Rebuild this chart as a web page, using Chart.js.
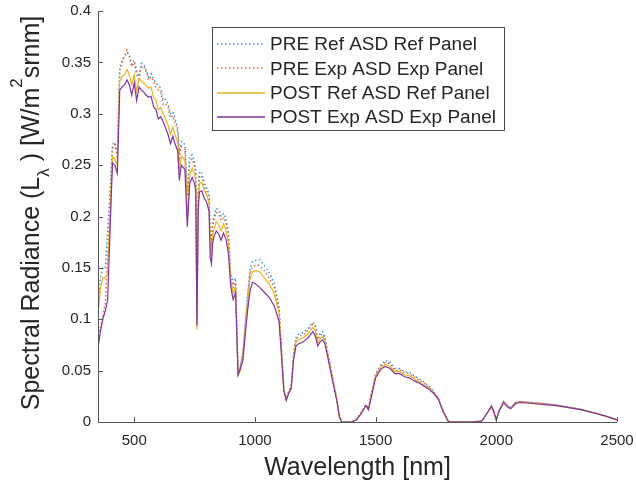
<!DOCTYPE html>
<html>
<head>
<meta charset="utf-8">
<script src="https://cdn.jsdelivr.net/npm/chart.js@4/dist/chart.umd.min.js"></script>
<style>
  html, body { margin: 0; padding: 0; background: #ffffff; }
  #wrap { width: 636px; height: 484px; position: relative; }
</style>
</head>
<body>
<div id="wrap"><canvas id="c" width="636" height="484"></canvas></div>
<script>
// ---- data ----
const wavelengths = [
  350,360,370,380,390,400,410,420,430,440,
  450,460,470,480,490,500,510,520,530,540,
  550,560,570,580,590,600,610,620,630,640,
  650,660,670,680,687,695,710,720,730,740,
  750,755,760,765,770,780,790,800,810,815,
  820,825,830,840,850,860,870,880,890,900,
  905,910,920,930,940,950,960,970,980,990,
  1000,1010,1020,1040,1060,1080,1100,1110,1120,1130,
  1140,1150,1160,1170,1180,1200,1220,1240,1250,1260,
  1270,1280,1290,1300,1320,1340,1350,1360,1400,1420,
  1440,1460,1470,1480,1500,1520,1540,1560,1580,1600,
  1620,1640,1660,1680,1700,1720,1740,1760,1780,1800,
  1810,1900,1940,1960,1980,1990,2000,2010,2030,2050,
  2060,2080,2100,2150,2200,2250,2300,2350,2400,2450,
  2500
];
const preRefPanel = [
  0.106,0.140,0.150,0.150,0.185,0.225,0.270,0.272,0.262,0.345,
  0.352,0.356,0.360,0.357,0.348,0.352,0.342,0.336,0.349,0.348,
  0.342,0.336,0.339,0.334,0.330,0.327,0.325,0.313,0.314,0.310,
  0.300,0.302,0.295,0.287,0.262,0.273,0.270,0.225,0.258,0.260,
  0.253,0.245,0.100,0.225,0.244,0.242,0.233,0.228,0.222,0.185,
  0.178,0.195,0.200,0.208,0.206,0.200,0.203,0.198,0.185,0.143,
  0.140,0.135,0.140,0.050,0.055,0.068,0.096,0.125,0.150,0.156,
  0.157,0.158,0.158,0.152,0.145,0.135,0.112,0.072,0.032,0.022,
  0.030,0.035,0.066,0.082,0.085,0.087,0.091,0.097,0.095,0.082,
  0.086,0.088,0.083,0.070,0.046,0.021,0.005,0.000,0.000,0.002,
  0.009,0.017,0.013,0.025,0.047,0.055,0.060,0.058,0.052,0.052,
  0.049,0.048,0.045,0.042,0.039,0.035,0.030,0.023,0.011,0.001,
  0.000,0.000,0.001,0.008,0.016,0.010,0.002,0.010,0.020,0.015,
  0.014,0.019,0.020,0.019,0.018,0.0165,0.0145,0.0125,0.0095,0.006,
  0.002
];
const preExpPanel = [
  0.080,0.092,0.104,0.115,0.160,0.215,0.266,0.270,0.258,0.342,
  0.350,0.356,0.362,0.355,0.346,0.350,0.338,0.334,0.346,0.346,
  0.340,0.333,0.336,0.331,0.326,0.323,0.321,0.309,0.310,0.306,
  0.296,0.298,0.291,0.283,0.257,0.268,0.265,0.220,0.254,0.256,
  0.249,0.241,0.098,0.220,0.240,0.238,0.229,0.225,0.218,0.181,
  0.174,0.191,0.196,0.204,0.202,0.196,0.199,0.194,0.181,0.139,
  0.136,0.131,0.136,0.049,0.054,0.066,0.093,0.121,0.145,0.151,
  0.152,0.153,0.152,0.147,0.140,0.131,0.109,0.070,0.031,0.022,
  0.029,0.034,0.064,0.080,0.083,0.085,0.089,0.095,0.093,0.080,
  0.084,0.086,0.081,0.069,0.045,0.021,0.005,0.000,0.000,0.002,
  0.009,0.017,0.013,0.024,0.046,0.054,0.058,0.057,0.050,0.051,
  0.048,0.047,0.044,0.041,0.038,0.034,0.029,0.023,0.011,0.001,
  0.000,0.000,0.001,0.008,0.016,0.010,0.002,0.010,0.020,0.015,
  0.014,0.019,0.020,0.019,0.018,0.0165,0.0145,0.0125,0.0095,0.006,
  0.002
];
const postRefPanel = [
  0.105,0.130,0.140,0.140,0.145,0.200,0.258,0.256,0.250,0.332,
  0.336,0.338,0.343,0.338,0.328,0.338,0.322,0.334,0.332,0.330,
  0.327,0.325,0.326,0.316,0.313,0.304,0.306,0.300,0.295,0.289,
  0.280,0.287,0.279,0.272,0.244,0.259,0.255,0.200,0.241,0.247,
  0.241,0.234,0.090,0.212,0.232,0.233,0.226,0.221,0.213,0.168,
  0.162,0.182,0.188,0.195,0.192,0.186,0.193,0.187,0.174,0.138,
  0.131,0.125,0.132,0.045,0.050,0.063,0.090,0.116,0.139,0.146,
  0.147,0.147,0.146,0.140,0.134,0.125,0.106,0.068,0.031,0.022,
  0.029,0.033,0.062,0.078,0.080,0.082,0.086,0.092,0.089,0.077,
  0.081,0.083,0.079,0.067,0.044,0.020,0.005,0.000,0.000,0.002,
  0.008,0.016,0.012,0.023,0.045,0.053,0.056,0.054,0.049,0.049,
  0.046,0.045,0.042,0.039,0.036,0.033,0.029,0.022,0.010,0.001,
  0.000,0.000,0.001,0.008,0.015,0.010,0.002,0.010,0.019,0.014,
  0.013,0.018,0.0195,0.0185,0.0175,0.016,0.014,0.012,0.009,0.006,
  0.002
];
const postExpPanel = [
  0.072,0.088,0.100,0.108,0.119,0.187,0.252,0.250,0.242,0.323,
  0.326,0.328,0.333,0.328,0.318,0.330,0.313,0.326,0.323,0.321,
  0.318,0.316,0.317,0.307,0.304,0.295,0.297,0.292,0.286,0.280,
  0.271,0.278,0.270,0.264,0.235,0.250,0.246,0.190,0.232,0.238,
  0.232,0.225,0.094,0.205,0.224,0.225,0.218,0.214,0.205,0.160,
  0.154,0.174,0.180,0.186,0.183,0.177,0.184,0.178,0.165,0.132,
  0.125,0.119,0.126,0.046,0.052,0.060,0.085,0.109,0.128,0.136,
  0.135,0.133,0.131,0.126,0.121,0.113,0.098,0.065,0.030,0.021,
  0.028,0.032,0.060,0.074,0.076,0.078,0.082,0.088,0.084,0.074,
  0.078,0.080,0.076,0.065,0.042,0.020,0.005,0.000,0.000,0.002,
  0.008,0.016,0.012,0.022,0.043,0.051,0.054,0.052,0.047,0.047,
  0.044,0.043,0.040,0.038,0.035,0.032,0.028,0.022,0.010,0.001,
  0.000,0.000,0.001,0.008,0.015,0.010,0.002,0.010,0.019,0.014,
  0.013,0.018,0.019,0.018,0.017,0.016,0.014,0.012,0.009,0.006,
  0.002
];
const seriesLabels = ['PRE Ref ASD Ref Panel','PRE Exp ASD Exp Panel','POST Ref ASD Ref Panel','POST Exp ASD Exp Panel'];
const xTickValues = [500, 1000, 1500, 2000, 2500];
const yTickValues = [0, 0.05, 0.1, 0.15, 0.2, 0.25, 0.3, 0.35, 0.4];

// ---- styling ----
const FONT = "'Liberation Sans', Arial, Helvetica, sans-serif";
const TEXT = '#262626';
const AXIS = '#555555';
const colors = ['#2f95dc', '#e0642a', '#EDB120', '#8134a0'];
const dashes = [[1.5, 2.5], [1.5, 2.5], [], []];
const seriesValues = [preRefPanel, preExpPanel, postRefPanel, postExpPanel];

const datasets = seriesValues.map((vals, i) => ({
  label: seriesLabels[i],
  data: wavelengths.map((w, k) => ({ x: w, y: vals[k] })),
  borderColor: colors[i],
  backgroundColor: colors[i],
  borderWidth: i < 2 ? 1.4 : 1.2,
  borderDash: dashes[i],
  pointRadius: 0,
  tension: 0,
  fill: false,
  order: 4 - i
}));

const decorPlugin = {
  id: 'decor',
  afterDraw(chart) {
    const ctx = chart.ctx;
    const { left, right, top, bottom } = chart.chartArea;
    const xs = chart.scales.x, ys = chart.scales.y;
    ctx.save();
    // axes lines
    ctx.strokeStyle = AXIS;
    ctx.lineWidth = 1;
    ctx.beginPath();
    ctx.moveTo(Math.round(left) + 0.5, top);
    ctx.lineTo(Math.round(left) + 0.5, Math.round(bottom) + 0.5);
    ctx.lineTo(right, Math.round(bottom) + 0.5);
    ctx.stroke();
    // inward ticks
    ctx.beginPath();
    xTickValues.forEach(v => {
      const px = Math.round(xs.getPixelForValue(v)) + 0.5;
      ctx.moveTo(px, bottom); ctx.lineTo(px, bottom - 5);
    });
    yTickValues.forEach(v => {
      const py = Math.round(ys.getPixelForValue(v)) + 0.5;
      ctx.moveTo(left, py); ctx.lineTo(left + 5, py);
    });
    ctx.stroke();

    // legend
    const bx = 212.5, by = 27.5, bw = 292, bh = 103;
    ctx.fillStyle = '#ffffff';
    ctx.fillRect(bx, by, bw, bh);
    ctx.strokeStyle = '#4a4a4a';
    ctx.lineWidth = 1;
    ctx.strokeRect(bx, by, bw, bh);
    ctx.font = '19px ' + FONT;
    ctx.textBaseline = 'middle';
    ctx.textAlign = 'left';
    chart.data.datasets.forEach((ds, i) => {
      const cy = 44 + i * 24.3;
      ctx.save();
      ctx.strokeStyle = colors[i];
      ctx.lineWidth = 1.6;
      ctx.setLineDash(dashes[i]);
      ctx.beginPath();
      ctx.moveTo(217, Math.round(cy));
      ctx.lineTo(265, Math.round(cy));
      ctx.stroke();
      ctx.restore();
      ctx.fillStyle = TEXT;
      ctx.fillText(ds.label, 270, cy + 1);
    });

    // x title
    ctx.fillStyle = TEXT;
    ctx.font = '25px ' + FONT;
    ctx.textAlign = 'center';
    ctx.textBaseline = 'alphabetic';
    ctx.fillText('Wavelength [nm]', (left + right) / 2, 475);

    // y title with subscript / superscript
    const segs = [
      { t: 'Spectral Radiance (L', s: 25, dy: 0 },
      { t: 'λ', s: 17, dy: 10 },
      { t: ' ) [W/m', s: 25, dy: 0 },
      { t: '2', s: 17, dy: -17 },
      { t: 'srnm]', s: 25, dy: 0 }
    ];
    let total = 0;
    segs.forEach(sg => { ctx.font = sg.s + 'px ' + FONT; sg.w = ctx.measureText(sg.t).width; total += sg.w; });
    ctx.translate(39, 213);
    ctx.rotate(-Math.PI / 2);
    ctx.textAlign = 'left';
    let cx = -total / 2;
    segs.forEach(sg => {
      ctx.font = sg.s + 'px ' + FONT;
      ctx.fillText(sg.t, cx, sg.dy);
      cx += sg.w;
    });
    ctx.restore();
  }
};

new Chart(document.getElementById('c'), {
  type: 'line',
  data: { datasets },
  plugins: [decorPlugin],
  options: {
    responsive: false,
    animation: false,
    devicePixelRatio: 1,
    layout: { padding: { left: 0, right: 19, top: 11, bottom: 0 } },
    plugins: { legend: { display: false }, tooltip: { enabled: false } },
    scales: {
      x: {
        type: 'linear',
        min: 350, max: 2500,
        grid: { display: false, drawTicks: false },
        border: { display: false },
        afterBuildTicks: s => { s.ticks = xTickValues.map(v => ({ value: v })); },
        afterFit: s => { s.height = 62; s.paddingLeft = 0; s.paddingRight = 0; },
        ticks: { color: TEXT, font: { family: FONT, size: 15 }, padding: 10, maxRotation: 0,
                 callback: v => String(v) }
      },
      y: {
        type: 'linear',
        min: 0, max: 0.4,
        grid: { display: false, drawTicks: false },
        border: { display: false },
        afterBuildTicks: s => { s.ticks = yTickValues.map(v => ({ value: v })); },
        afterFit: s => { s.width = 98; s.paddingTop = 0; s.paddingBottom = 0; },
        ticks: { color: TEXT, font: { family: FONT, size: 15 }, padding: 7,
                 callback: v => String(Math.round(v * 100) / 100) }
      }
    }
  }
});
</script>
</body>
</html>
